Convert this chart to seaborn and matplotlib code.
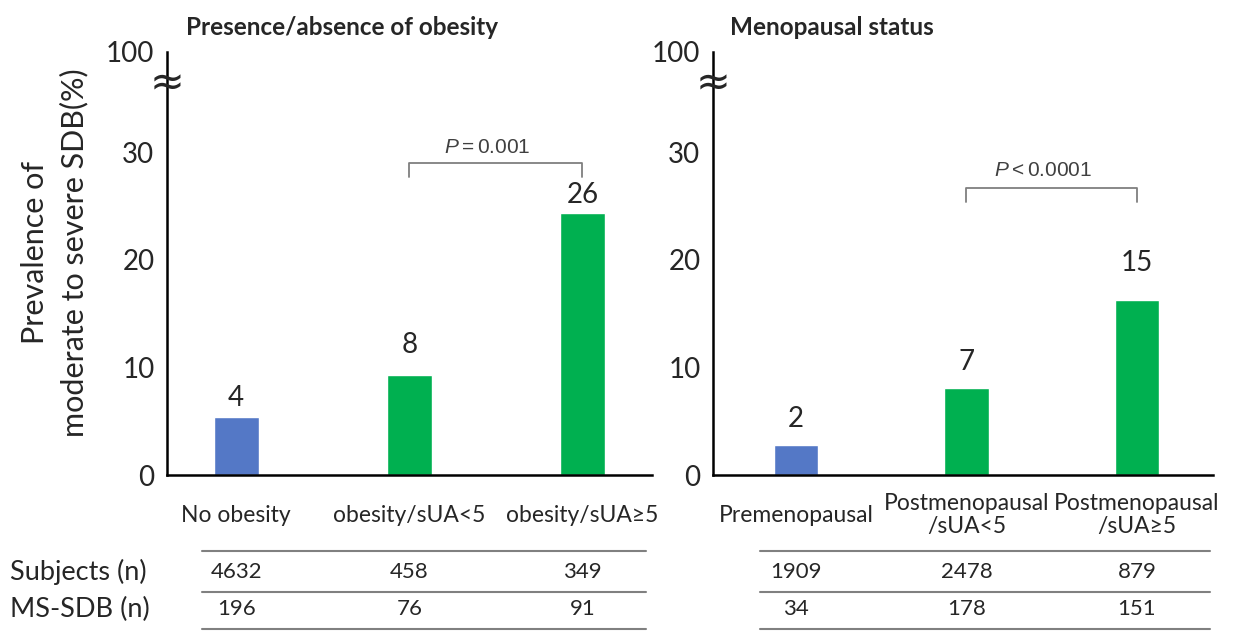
import matplotlib
matplotlib.use("Agg")
import matplotlib.pyplot as plt
import matplotlib.transforms as mtransforms
import seaborn as sns
import pandas as pd

# left panel: presence/absence of obesity
obesity_groups = ["No obesity", "obesity/sUA<5", "obesity/sUA≥5"]
obesity_prev = [5.4, 9.3, 24.3]          # bar heights as drawn
obesity_labels = ["4", "8", "26"]
obesity_subjects = [4632, 458, 349]
obesity_sdb = [196, 76, 91]
obesity_p = r"$P = 0.001$"

# right panel: menopausal status
meno_groups = ["Premenopausal", "Postmenopausal\n/sUA<5", "Postmenopausal\n/sUA≥5"]
meno_prev = [2.8, 8.1, 16.3]
meno_labels = ["2", "7", "15"]
meno_subjects = [1909, 2478, 879]
meno_sdb = [34, 178, 151]
meno_p = r"$P < 0.0001$"

ytick_vals = [0, 10, 20, 30]
ytick_labels = ["0", "10", "20", "30", "100"]
Y_TOP = 39.3        # where the "100" tick sits above the break
BREAK_Y = 36.4

bar_colors = ["#5478C6", "#00B050", "#00B050"]

sns.set_style("white")
plt.rcParams["font.family"] = ["Lato", "DejaVu Sans"]
plt.rcParams["mathtext.fontset"] = "custom"
plt.rcParams["mathtext.rm"] = "Liberation Sans"
plt.rcParams["mathtext.it"] = "Liberation Sans:italic"

fig = plt.figure(figsize=(12.46, 6.31), dpi=100)
ax_l = fig.add_axes([0.134, 0.2472, 0.389, 0.6704])
ax_r = fig.add_axes([0.5722, 0.2472, 0.4013, 0.6704])


def draw_panel(ax, groups, prev, labels, subjects, sdb, ptext, bracket_y, ptext_y,
               gaps, xlim, table_x):
    df = pd.DataFrame({"group": groups, "prev": prev})
    sns.barplot(data=df, x="group", y="prev", hue="group", palette=bar_colors,
                legend=False, width=0.26, saturation=1, ax=ax)
    ax.set_xlim(*xlim)
    ax.set_ylim(0, Y_TOP)
    ax.set_xlabel("")
    ax.set_ylabel("")
    ax.set_yticks(ytick_vals + [Y_TOP])
    ax.set_yticklabels(ytick_labels, fontsize=20)
    ax.tick_params(axis="y", length=0, pad=9)
    ax.tick_params(axis="x", length=0, pad=29, labelsize=16.5)
    for lbl in ax.get_xticklabels():
        lbl.set_verticalalignment("center")
        lbl.set_linespacing(1.1)
    for s in ["top", "right"]:
        ax.spines[s].set_visible(False)
    for s in ["left", "bottom"]:
        ax.spines[s].set_linewidth(1.8)
        ax.spines[s].set_color("black")

    # value labels above bars
    for i, (v, t) in enumerate(zip(prev, labels)):
        ax.annotate(t, (i, v), xytext=(0, gaps[i]), textcoords="offset points",
                    ha="center", va="bottom", fontsize=20)

    # axis break mark
    trans = mtransforms.blended_transform_factory(ax.transAxes, ax.transData)
    ax.text(0, BREAK_Y, "≈", transform=trans, ha="center", va="center",
            fontsize=30, family="DejaVu Sans", clip_on=False)

    # significance bracket between the two sUA groups
    ax.plot([1, 1, 2, 2], [bracket_y - 1.3, bracket_y, bracket_y, bracket_y - 1.3],
            color="#7f7f7f", lw=1.3)
    ax.text(1.45, ptext_y, ptext, ha="center", va="center", fontsize=15,
            color="#404040")

    # counts table under the axis
    tx = ax.get_xaxis_transform()
    for yy in [-0.18, -0.277, -0.364]:
        ax.plot(table_x, [yy, yy], transform=tx, color="#808080", lw=1.5,
                clip_on=False)
    for i in range(len(groups)):
        ax.text(i, -0.229, str(subjects[i]), transform=tx, ha="center",
                va="center", fontsize=16)
        ax.text(i, -0.317, str(sdb[i]), transform=tx, ha="center",
                va="center", fontsize=16)


draw_panel(ax_l, obesity_groups, obesity_prev, obesity_labels, obesity_subjects,
           obesity_sdb, obesity_p, 29.0, 30.45, [4, 12, 4], (-0.40, 2.40),
           [-0.20, 2.37])
draw_panel(ax_r, meno_groups, meno_prev, meno_labels, meno_subjects, meno_sdb,
           meno_p, 26.7, 28.3, [9, 9, 17], (-0.487, 2.446), [-0.21, 2.43])

fig.text(0.149, 0.957, "Presence/absence of obesity", fontsize=17.5,
         fontweight="bold", ha="left", va="center")
fig.text(0.586, 0.957, "Menopausal status", fontsize=17.5, fontweight="bold",
         ha="left", va="center")
fig.text(0.044, 0.60, "Prevalence of\nmoderate to severe SDB(%)", rotation=90,
         fontsize=22, ha="center", va="center", linespacing=1.45)
fig.text(0.008, 1 - 572 / 631, "Subjects (n)", fontsize=19.5, ha="left",
         va="center")
fig.text(0.008, 1 - 609 / 631, "MS-SDB (n)", fontsize=19.5, ha="left",
         va="center")

fig.savefig("out.png", dpi=100)
